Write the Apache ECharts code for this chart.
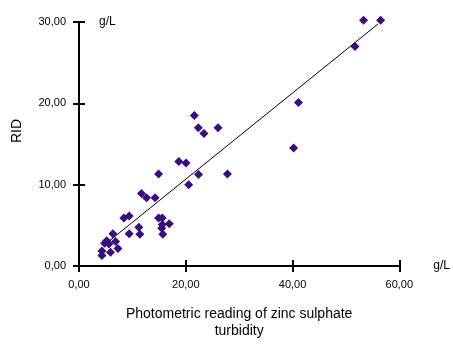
<!DOCTYPE html>
<html lang="en">
<head>
    <meta charset="UTF-8">
    <title>RID vs zinc sulphate turbidity</title>
    <script src="https://cdn.jsdelivr.net/npm/echarts@6/dist/echarts.min.js"></script>
</head>
<body style="margin:0;background:#fff">
<div id="main" style="width:453px;height:345px"></div>

<script type="text/javascript">
    // photometric reading (g/L) and RID (g/L)
    var turbidity = [4.3, 4.3, 4.8, 5.2, 5.6, 5.9, 6.35, 6.85, 7.3, 8.4, 9.4, 9.4, 11.2, 11.4, 11.7, 12.65, 14.25,
        14.9, 14.9, 15.6, 15.6, 15.5, 15.7, 16.9, 18.7, 20.05, 20.55, 21.6, 22.35, 23.4, 26.05, 22.4, 27.8,
        40.2, 41.1, 51.7, 53.3, 56.5];
    var rid = [1.3, 1.85, 2.8, 3.1, 2.7, 1.7, 3.95, 3.0, 2.15, 5.9, 6.15, 3.95, 4.75, 3.9, 8.9, 8.4, 8.4,
        11.3, 5.9, 5.9, 5.1, 4.65, 3.9, 5.2, 12.85, 12.65, 10.0, 18.5, 17.0, 16.3, 17.0, 11.25, 11.3,
        14.5, 20.1, 27.0, 30.2, 30.2];
    // regression line end points
    var fitLine = [[5.6, 3.04], [56, 29.75]];

    var points = [];
    for (var i = 0; i < turbidity.length; i++) {
        points.push([turbidity[i], rid[i]]);
    }

    function comma(v) {
        return v.toFixed(2).replace('.', ',');
    }

    var font = 'Liberation Sans, Arial, sans-serif';
    var axisLine = {show: true, onZero: false, lineStyle: {color: '#000', width: 2}};

    var myChart = echarts.init(document.getElementById('main'));
    var option = {
        backgroundColor: '#fff',
        animation: false,
        grid: {left: 79, right: 50, top: 22, bottom: 74},
        xAxis: [{
            type: 'value', min: 0, max: 60, interval: 20, position: 'bottom',
            name: 'g/L', nameLocation: 'end', nameGap: 34,
            nameTextStyle: {fontFamily: font, fontSize: 12, color: '#000', verticalAlign: 'middle'},
            axisLine: axisLine,
            axisTick: {show: true, length: 6, lineStyle: {color: '#000', width: 2}},
            axisLabel: {fontFamily: font, fontSize: 11, color: '#000', margin: 13, formatter: comma},
            splitLine: {show: false}
        }, {
            type: 'value', min: 0, max: 60, interval: 20, position: 'bottom',
            name: 'Photometric reading of zinc sulphate\nturbidity', nameLocation: 'middle', nameGap: 40,
            nameTextStyle: {fontFamily: font, fontSize: 14, color: '#000', lineHeight: 17},
            axisLine: {show: false},
            axisTick: {show: true, inside: true, length: 6, lineStyle: {color: '#000', width: 2}},
            axisLabel: {show: false},
            splitLine: {show: false}
        }],
        yAxis: [{
            type: 'value', min: 0, max: 30, interval: 10, position: 'left',
            name: 'RID', nameLocation: 'middle', nameGap: 55,
            nameTextStyle: {fontFamily: font, fontSize: 14, color: '#000', padding: [0, 0, 0, 26]},
            axisLine: axisLine,
            axisTick: {show: true, length: 6, lineStyle: {color: '#000', width: 2}},
            axisLabel: {fontFamily: font, fontSize: 11, color: '#000', margin: 13, formatter: comma},
            splitLine: {show: false}
        }, {
            type: 'value', min: 0, max: 30, interval: 10, position: 'left',
            name: 'g/L', nameLocation: 'end', nameGap: 0,
            nameTextStyle: {fontFamily: font, fontSize: 12, color: '#000', align: 'left',
                verticalAlign: 'middle', padding: [0, 0, 0, 20]},
            axisLine: {show: false},
            axisTick: {show: true, inside: true, length: 6, lineStyle: {color: '#000', width: 2}},
            axisLabel: {show: false},
            splitLine: {show: false}
        }],
        series: [{
            type: 'line',
            data: fitLine,
            symbol: 'none',
            lineStyle: {color: '#000', width: 1},
            silent: true
        }, {
            type: 'scatter',
            data: points,
            symbol: 'diamond',
            symbolSize: 9,
            clip: false,
            itemStyle: {color: '#3a0d7d', opacity: 1}
        }]
    };
    myChart.setOption(option);
</script>

</body>
</html>
